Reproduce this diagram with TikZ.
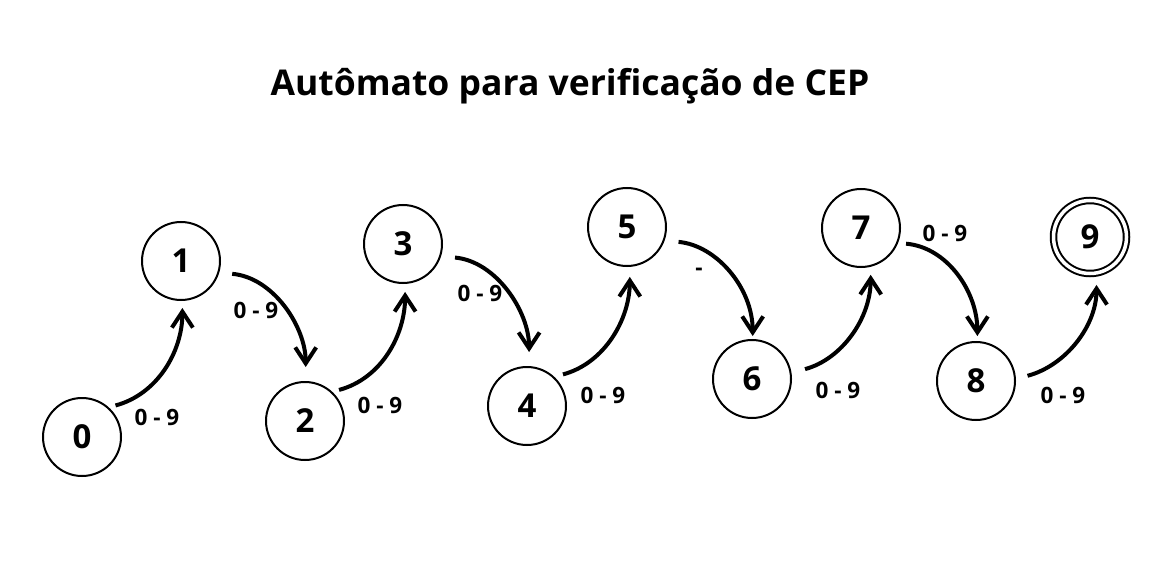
\documentclass[tikz,border=0pt]{standalone}
\usepackage{fontspec}
\setmainfont{Open Sans}
\usetikzlibrary{arrows.meta}

\begin{document}
\begin{tikzpicture}[x=1pt, y=-1pt,
    state/.style={draw, circle, line width=2pt, minimum size=78pt, inner sep=0pt, font=\bfseries\fontsize{33}{33}\selectfont},
    final/.style={state, double, double distance=3.5pt, minimum size=73pt},
    trans/.style={-{Straight Barb[length=16pt, width=21pt]}, line width=4pt},
    lbl/.style={font=\bfseries\fontsize{22.5}{22.5}\selectfont, inner sep=1pt}
]
\fill[white] (0,0) rectangle (1169,585);

\node[font=\bfseries\fontsize{35.5}{40}\selectfont, anchor=base] (title) at (570,96) {Autômato para verificação de CEP};

% estados
\node[state] (n0) at (82,437) {0};
\node[state] (n1) at (181,261) {1};
\node[state] (n2) at (305,421) {2};
\node[state] (n3) at (403,244) {3};
\node[state] (n4) at (527,406) {4};
\node[state] (n5) at (627,227) {5};
\node[state] (n6) at (752,379) {6};
\node[state] (n7) at (861,228) {7};
\node[state] (n8) at (976,381) {8};
\node[final] (n9) at (1090,237) {9};

% transicoes
\draw[trans, shorten <=7pt, shorten >=7pt] (n0.48) to[out=15, in=-90] (n1.-88);
\draw[trans, shorten <=13pt, shorten >=14pt] (n1.-17) to[out=-5, in=90] (n2.89);
\draw[trans, shorten <=7pt, shorten >=8pt] (n2.47) to[out=15, in=-90] (n3.-87);
\draw[trans, shorten <=14pt, shorten >=14pt] (n3.-18) to[out=-5, in=90] (n4.87);
\draw[trans, shorten <=9pt, shorten >=10pt] (n4.47) to[out=15, in=-90] (n5.-86);
\draw[trans, shorten <=14pt, shorten >=3pt] (n5.-20) to[out=-5, in=90] (n6.89);
\draw[trans, shorten <=14pt, shorten >=8pt] (n6.9) to[out=15, in=-90] (n7.-76);
\draw[trans, shorten <=8pt, shorten >=5pt] (n7.-22) to[out=-5, in=90] (n8.88);
\draw[trans, shorten <=12pt, shorten >=11pt] (n8.3) to[out=15, in=-90] (n9.-80);

% rotulos
\node[lbl] (l01) at (157,417) {0 - 9};
\node[lbl] (l12) at (256,310) {0 - 9};
\node[lbl] (l23) at (380,405) {0 - 9};
\node[lbl] (l34) at (480,293) {0 - 9};
\node[lbl] (l45) at (603,395) {0 - 9};
\node[lbl, anchor=base] (l56) at (699,276) {-};
\node[lbl] (l67) at (838,390) {0 - 9};
\node[lbl] (l78) at (945,233) {0 - 9};
\node[lbl] (l89) at (1063,395) {0 - 9};
\end{tikzpicture}
\end{document}
